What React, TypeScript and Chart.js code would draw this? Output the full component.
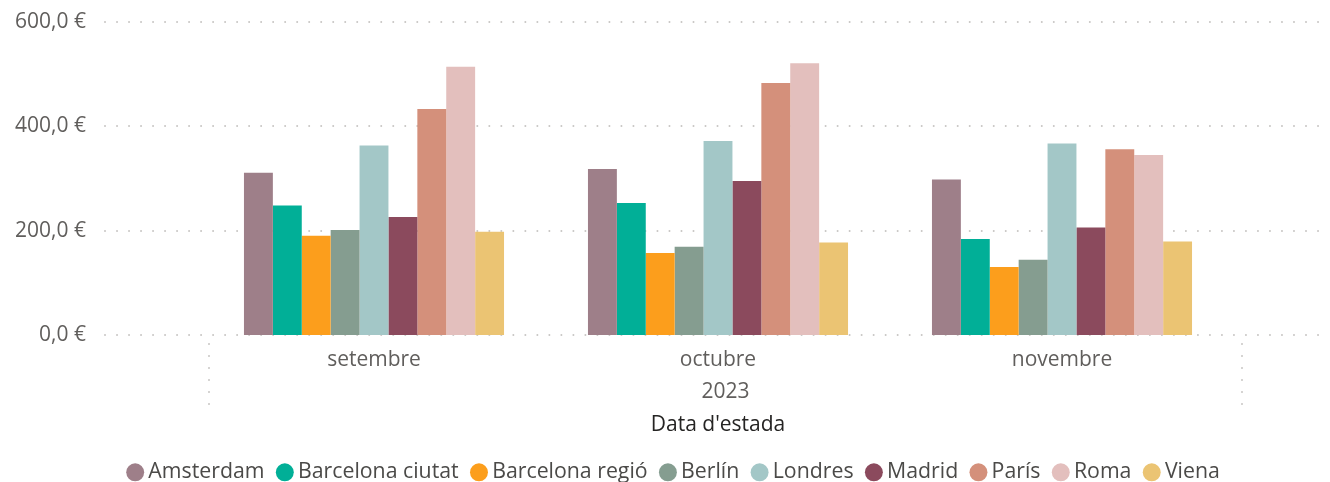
import React, { useEffect, useRef } from 'react';
import { Chart, registerables } from 'chart.js';

Chart.register(...registerables);

// ---- data ----
const categories = ['setembre', 'octubre', 'novembre'];
const yearLabel = '2023';
const axisTitle = "Data d'estada";

const cities = ['Amsterdam', 'Barcelona ciutat', 'Barcelona regió', 'Berlín', 'Londres', 'Madrid', 'París', 'Roma', 'Viena'];
const amsterdam = [311, 318, 298];
const barcelonaCiutat = [248, 253, 184];
const barcelonaRegio = [190, 157, 130];
const berlin = [201, 169, 144];
const londres = [363, 372, 367];
const madrid = [226, 295, 206];
const paris = [433, 483, 356];
const roma = [514, 521, 345];
const viena = [198, 177, 179];
const seriesValues = [amsterdam, barcelonaCiutat, barcelonaRegio, berlin, londres, madrid, paris, roma, viena];
const cityColors = ['#9E7F89', '#01AF97', '#FC9E1C', '#859D90', '#A3C7C7', '#8B4A5D', '#D4907B', '#E3BFBD', '#EBC473'];

const yMin = 0;
const yMax = 600;
const yStep = 200;

const FONT = "'Open Sans', 'Noto Sans', sans-serif";
const TICK_COLOR = '#605E5C';
const TICK_SIZE = 21;
const LEGEND_SIZE = 21.3;

const formatEuro = (v: number) => v.toFixed(1).replace('.', ',') + ' €';

const decor = {
  id: 'decor',
  beforeDatasetsDraw(chart: any) {
    const { ctx, chartArea, scales } = chart;
    ctx.save();
    ctx.strokeStyle = '#C8C6C4';
    ctx.lineWidth = 2;
    ctx.lineCap = 'round';
    ctx.setLineDash([0.01, 12]);
    const left = chartArea.left - 97;
    const right = chart.width;
    scales.y.ticks.forEach((t: any) => {
      const y = Math.round(scales.y.getPixelForValue(t.value));
      ctx.beginPath();
      ctx.moveTo(left, y);
      ctx.lineTo(right, y);
      ctx.stroke();
    });
    [chartArea.left + 7, chartArea.right + 8].forEach((x: number) => {
      ctx.beginPath();
      ctx.moveTo(Math.round(x), chartArea.bottom + 9);
      ctx.lineTo(Math.round(x), chartArea.bottom + 70);
      ctx.stroke();
    });
    ctx.restore();
  },
  afterDraw(chart: any) {
    const { ctx, chartArea } = chart;
    ctx.save();
    ctx.fillStyle = TICK_COLOR;
    ctx.font = `${TICK_SIZE}px ${FONT}`;
    ctx.textAlign = 'center';
    ctx.textBaseline = 'middle';
    ctx.fillText(yearLabel, (chartArea.left + 7 + chartArea.right + 8) / 2, chartArea.bottom + 57);
    ctx.restore();
  },
};

export default function App() {
  const ref = useRef<HTMLCanvasElement>(null);
  useEffect(() => {
    document.body.style.margin = '0';
    const chart = new Chart(ref.current as HTMLCanvasElement, {
      type: 'bar',
      data: {
        labels: categories,
        datasets: cities.map((c, i) => ({
          label: c,
          data: seriesValues[i],
          backgroundColor: cityColors[i],
          borderWidth: 0,
          categoryPercentage: 0.756,
          barPercentage: 1,
          yAxisID: 'y',
        })),
      },
      options: {
        animation: false,
        responsive: false,
        maintainAspectRatio: false,
        layout: { padding: { top: 22, right: -22.5, bottom: -11, left: 0 } },
        scales: {
          x: {
            grid: { display: false, drawTicks: false },
            border: { display: false },
            ticks: { color: TICK_COLOR, font: { family: FONT, size: TICK_SIZE }, padding: 13 },
            title: {
              display: true,
              text: axisTitle,
              color: '#252423',
              font: { family: FONT, size: TICK_SIZE },
              padding: { top: 0, bottom: 6.4 },
            },
            afterFit: (s: any) => {
              s.height = 109;
            },
          },
          y: {
            min: yMin,
            max: yMax,
            grid: { display: false, drawTicks: false },
            border: { display: false },
            ticks: {
              stepSize: yStep,
              color: TICK_COLOR,
              font: { family: FONT, size: TICK_SIZE },
              padding: 116,
              callback: (v: any) => formatEuro(Number(v)),
            },
            afterFit: (s: any) => {
              s.width = 202;
              s.paddingTop = 0;
              s.paddingBottom = 0;
            },
          },
          yR: {
            position: 'right',
            display: true,
            grid: { display: false, drawTicks: false },
            border: { display: false },
            ticks: { display: false },
            afterFit: (s: any) => {
              s.width = 118.5;
              s.paddingTop = 0;
              s.paddingBottom = 0;
            },
          },
        },
        plugins: {
          legend: {
            position: 'bottom',
            labels: {
              usePointStyle: true,
              pointStyle: 'circle',
              boxWidth: 5,
              boxHeight: 12.7,
              padding: 17.8,
              color: '#4B4A48',
              font: { family: FONT, size: LEGEND_SIZE },
            },
          },
          tooltip: { enabled: false },
        },
      },
      plugins: [decor],
    });
    return () => chart.destroy();
  }, []);
  return (
    <div style={{ position: 'absolute', left: 0, top: 0, width: 1330, height: 482 }}>
      <canvas ref={ref} width={1330} height={482} style={{ display: 'block' }} />
    </div>
  );
}
